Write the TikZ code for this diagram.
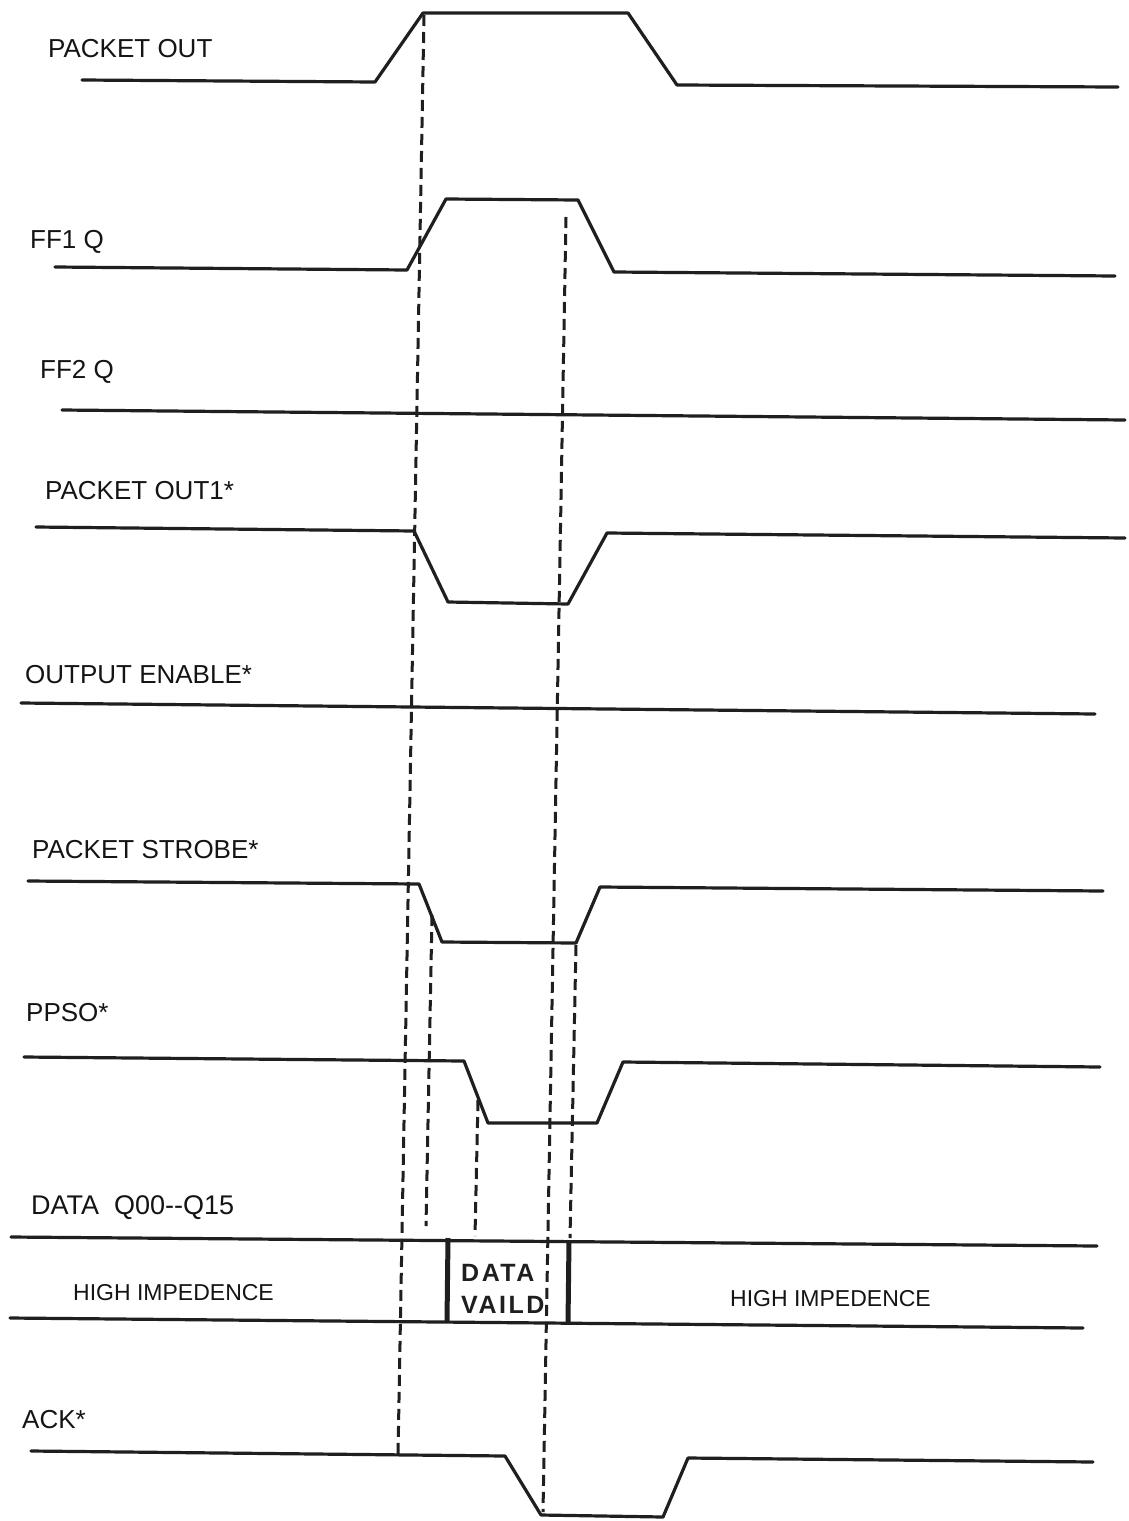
\documentclass[tikz,border=0pt]{standalone}
\usepackage{fontspec}
\setmainfont{Liberation Sans}
\begin{document}
\begin{tikzpicture}[x=1pt,y=-1pt,
  sig/.style={line width=3.2pt, line join=round, line cap=round, black!88},
  bar/.style={line width=5pt, black!88},
  dsh/.style={line width=3pt, dash pattern=on 11pt off 6pt, black!88},
  lbl/.style={anchor=base west, inner sep=0pt, text=black!92, font=\fontsize{26}{30}\selectfont},
  hiz/.style={anchor=base west, inner sep=0pt, text=black!92, font=\fontsize{23}{27}\selectfont},
  dv/.style={anchor=base west, inner sep=0pt, text=black!88, font=\fontsize{25}{28}\selectfont\bfseries\addfontfeatures{LetterSpace=10}}]
\useasboundingbox[fill=white] (0,0) rectangle (1128,1521);

% labels
\node[lbl] (lPO)  at (48,57)    {PACKET OUT};
\node[lbl] (lFF1) at (30,248)   {FF1 Q};
\node[lbl] (lFF2) at (40,378)   {FF2 Q};
\node[lbl] (lPO1) at (45,499)   {PACKET OUT1*};
\node[lbl] (lOE)  at (25,683)   {OUTPUT ENABLE*};
\node[lbl] (lPS)  at (32,858)   {PACKET STROBE*};
\node[lbl] (lPP)  at (26,1021)  {PPSO*};
\node[lbl,font=\fontsize{27}{30}\selectfont] (lDQ) at (31,1214) {DATA\ \ Q00{-}{-}Q15};
\node[lbl] (lACK) at (22,1428)  {ACK*};
\node[hiz] (hiL) at (73,1300)   {HIGH IMPEDENCE};
\node[hiz] (hiR) at (730,1306)  {HIGH IMPEDENCE};
\node[dv]  (dv1) at (461,1281)  {DATA};
\node[dv]  (dv2) at (461,1313)  {VAILD};

% PACKET OUT
\coordinate (a0) at (82,80);   \coordinate (a1) at (375,82);
\coordinate (a2) at (423,13);  \coordinate (a3) at (628,13);
\coordinate (a4) at (677,85);  \coordinate (a5) at (1118,87);
\draw[sig] (a0) -- (a1) -- (a2) -- (a3) -- (a4) -- (a5);

% FF1 Q
\coordinate (b0) at (55,267);  \coordinate (b1) at (407,270);
\coordinate (b2) at (446,199); \coordinate (b3) at (578,200);
\coordinate (b4) at (614,272); \coordinate (b5) at (1115,276);
\draw[sig] (b0) -- (b1) -- (b2) -- (b3) -- (b4) -- (b5);

% FF2 Q
\coordinate (c0) at (62,410);  \coordinate (c1) at (1125,420);
\draw[sig] (c0) -- (c1);

% PACKET OUT1*
\coordinate (d0) at (36,527);  \coordinate (d1) at (414,531);
\coordinate (d2) at (448,602); \coordinate (d3) at (568,604);
\coordinate (d4) at (607,533); \coordinate (d5) at (1125,538);
\draw[sig] (d0) -- (d1) -- (d2) -- (d3) -- (d4) -- (d5);

% OUTPUT ENABLE*
\coordinate (e0) at (21,703);  \coordinate (e1) at (1095,714);
\draw[sig] (e0) -- (e1);

% PACKET STROBE*
\coordinate (f0) at (28,881);  \coordinate (f1) at (419,884);
\coordinate (f2) at (442,942); \coordinate (f3) at (576,943);
\coordinate (f4) at (600,887); \coordinate (f5) at (1103,891);
\draw[sig] (f0) -- (f1) -- (f2) -- (f3) -- (f4) -- (f5);

% PPSO*
\coordinate (g0) at (24,1057); \coordinate (g1) at (464,1061);
\coordinate (g2) at (488,1123);\coordinate (g3) at (597,1123);
\coordinate (g4) at (623,1062);\coordinate (g5) at (1100,1067);
\draw[sig] (g0) -- (g1) -- (g2) -- (g3) -- (g4) -- (g5);

% DATA bus
\coordinate (h0) at (11,1237); \coordinate (h1) at (1097,1246);
\coordinate (h2) at (10,1318); \coordinate (h3) at (1083,1328);
\draw[sig] (h0) -- (h1);
\draw[sig] (h2) -- (h3);
\coordinate (v1t) at (448,1238); \coordinate (v1b) at (447,1322);
\coordinate (v2t) at (569,1240); \coordinate (v2b) at (568,1324);
\draw[bar] (v1t) -- (v1b);
\draw[bar] (v2t) -- (v2b);

% ACK*
\coordinate (k0) at (31,1451); \coordinate (k1) at (505,1456);
\coordinate (k2) at (541,1515);\coordinate (k3) at (663,1517);
\coordinate (k4) at (688,1458);\coordinate (k5) at (1093,1462);
\draw[sig] (k0) -- (k1) -- (k2) -- (k3) -- (k4) -- (k5);

% dashed timing lines
\coordinate (t1a) at (424,15);   \coordinate (t1b) at (398,1455);
\coordinate (t2a) at (566,217);  \coordinate (t2b) at (543,1512);
\coordinate (t3a) at (432,915);  \coordinate (t3b) at (426,1226);
\coordinate (t4a) at (478,1100); \coordinate (t4b) at (475,1236);
\coordinate (t5a) at (576,945);  \coordinate (t5b) at (570,1238);
\draw[dsh] (t1a) -- (t1b);
\draw[dsh] (t2a) -- (t2b);
\draw[dsh] (t3a) -- (t3b);
\draw[dsh] (t4a) -- (t4b);
\draw[dsh] (t5a) -- (t5b);
\end{tikzpicture}
\end{document}
